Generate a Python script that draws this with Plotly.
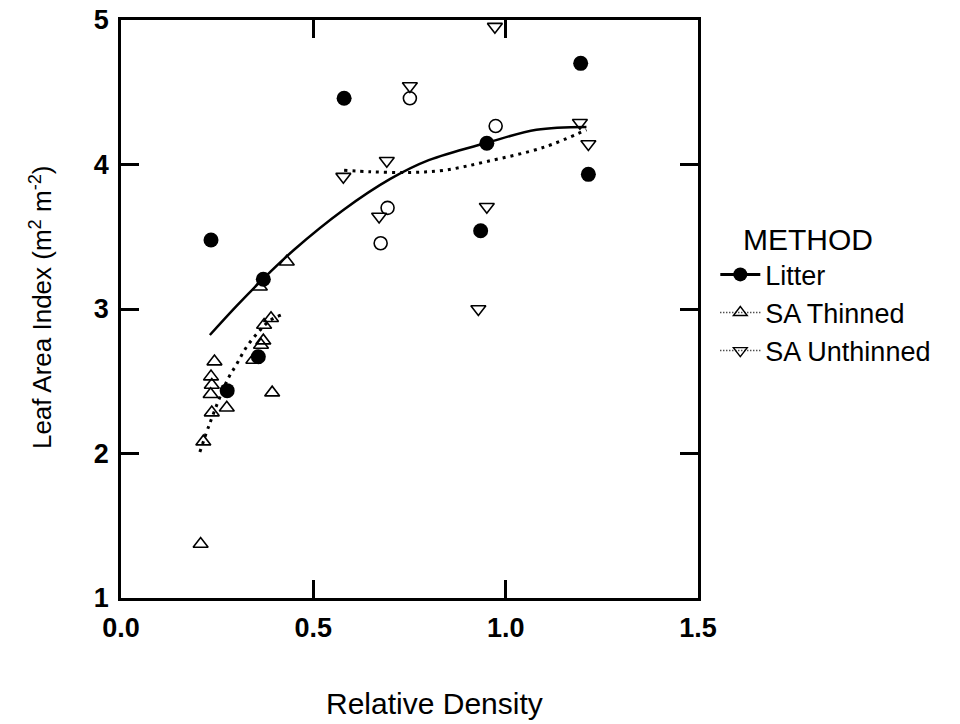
import plotly.graph_objects as go

# ---- data ----
litter_x = [0.234, 0.370, 0.357, 0.276, 0.580, 0.935, 0.951, 1.195, 1.215]
litter_y = [3.478, 3.206, 2.670, 2.435, 4.458, 3.542, 4.147, 4.700, 3.932]

thin_x = [0.207, 0.214, 0.236, 0.233, 0.236, 0.234, 0.243, 0.275, 0.344, 0.364, 0.370, 0.372, 0.390, 0.393, 0.361, 0.431]
thin_y = [1.374, 2.082, 2.283, 2.410, 2.474, 2.532, 2.636, 2.317, 2.647, 2.751, 2.781, 2.889, 2.936, 2.421, 3.154, 3.327]

unthin_x = [0.578, 0.671, 0.691, 0.751, 0.929, 0.951, 0.972, 1.193, 1.215]
unthin_y = [3.916, 3.640, 4.026, 4.543, 3.000, 3.708, 4.954, 4.289, 4.142]

open_x = [0.675, 0.693, 0.751, 0.974]
open_y = [3.455, 3.700, 4.458, 4.266]

# fitted curves, read as points from the picture
litter_fit_x = [0.231, 0.30, 0.37, 0.45, 0.578, 0.70, 0.80, 0.951, 1.08, 1.21]
litter_fit_y = [2.82, 3.02, 3.21, 3.41, 3.685, 3.90, 4.03, 4.15, 4.24, 4.26]

thin_fit_x = [0.205, 0.231, 0.275, 0.301, 0.327, 0.357, 0.387, 0.418]
thin_fit_y = [2.01, 2.21, 2.50, 2.62, 2.74, 2.84, 2.92, 2.96]

unthin_fit_x = [0.58, 0.65, 0.75, 0.84, 0.95, 1.10, 1.21]
unthin_fit_y = [3.96, 3.95, 3.945, 3.96, 4.02, 4.12, 4.24]

x_ticks = [0.0, 0.5, 1.0, 1.5]
x_tick_text = ["0.0", "0.5", "1.0", "1.5"]
y_ticks = [1, 2, 3, 4, 5]

FONT = "Liberation Sans, Arial, Helvetica, sans-serif"
DOT = "3px,5px"

fig = go.Figure()

# fit lines
fig.add_trace(go.Scatter(x=litter_fit_x, y=litter_fit_y, mode="lines", line_shape="spline",
                         line=dict(color="black", width=2.5), showlegend=False, hoverinfo="skip"))
fig.add_trace(go.Scatter(x=thin_fit_x, y=thin_fit_y, mode="lines", line_shape="spline",
                         line=dict(color="black", width=3, dash=DOT), showlegend=False, hoverinfo="skip"))
fig.add_trace(go.Scatter(x=unthin_fit_x, y=unthin_fit_y, mode="lines", line_shape="spline",
                         line=dict(color="black", width=3, dash=DOT), showlegend=False, hoverinfo="skip"))

# markers
fig.add_trace(go.Scatter(x=thin_x, y=thin_y, mode="markers", showlegend=False,
                         marker=dict(symbol="triangle-up-open", size=13, color="black", line=dict(width=1.6))))
fig.add_trace(go.Scatter(x=unthin_x, y=unthin_y, mode="markers", showlegend=False,
                         marker=dict(symbol="triangle-down-open", size=13, color="black", line=dict(width=1.6))))
fig.add_trace(go.Scatter(x=open_x, y=open_y, mode="markers", showlegend=False,
                         marker=dict(symbol="circle-open", size=13, color="black", line=dict(width=1.6))))
fig.add_trace(go.Scatter(x=litter_x, y=litter_y, mode="markers", showlegend=False,
                         marker=dict(symbol="circle", size=15, color="black")))

# legend entries
fig.add_trace(go.Scatter(x=[None], y=[None], mode="lines+markers", name="Litter",
                         line=dict(color="black", width=3),
                         marker=dict(symbol="circle", size=14, color="black")))
fig.add_trace(go.Scatter(x=[None], y=[None], mode="lines+markers", name="SA Thinned",
                         line=dict(color="black", width=1.5, dash="1px,2px"),
                         marker=dict(symbol="triangle-up-open", size=12, color="black", line=dict(width=1.4))))
fig.add_trace(go.Scatter(x=[None], y=[None], mode="lines+markers", name="SA Unthinned",
                         line=dict(color="black", width=1.5, dash="1px,2px"),
                         marker=dict(symbol="triangle-down-open", size=12, color="black", line=dict(width=1.4))))

axis_common = dict(showline=True, linecolor="black", linewidth=2.5, mirror="allticks",
                   ticks="inside", ticklen=18, tickwidth=2.5, tickcolor="black",
                   showgrid=False, zeroline=False, automargin=False,
                   ticklabeloverflow="allow",
                   tickfont=dict(family=FONT, size=27, color="black", weight="bold"))

fig.update_xaxes(range=[0, 1.5], tickvals=x_ticks, ticktext=x_tick_text,
                 ticklabelstandoff=4, **axis_common)
fig.update_yaxes(range=[1, 5], tickvals=y_ticks, ticklabelstandoff=4, **axis_common)

fig.update_layout(
    width=960, height=724,
    margin=dict(l=113, r=270, t=12, b=134),
    plot_bgcolor="white", paper_bgcolor="white",
    font=dict(family=FONT, color="black"),
    legend=dict(x=1.03, y=0.6015, xanchor="left", yanchor="top",
                font=dict(family=FONT, size=27, color="black"),
                bgcolor="rgba(0,0,0,0)", itemwidth=40, tracegroupgap=0),
    annotations=[
        dict(text="Relative Density", xref="paper", yref="paper", x=0.544, y=-0.182,
             xanchor="center", yanchor="middle", showarrow=False,
             font=dict(family=FONT, size=30, color="black")),
        dict(text="Leaf Area Index (m<sup>2</sup> m<sup>-2</sup>)", xref="paper", yref="paper",
             x=-0.139, y=0.503, xanchor="center", yanchor="middle", textangle=-90, showarrow=False,
             font=dict(family=FONT, size=26, color="black")),
        dict(text="METHOD", xref="paper", yref="paper", x=(808 - 121) / 577, y=(598 - 240) / 578,
             xanchor="center", yanchor="middle", showarrow=False,
             font=dict(family=FONT, size=30, color="black")),
    ],
)

fig.write_html("out.html")
